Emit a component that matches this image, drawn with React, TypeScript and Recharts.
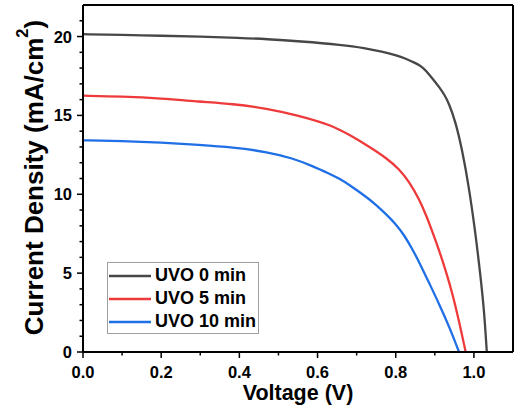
import React from 'react';
import { LineChart, Line, XAxis, YAxis, ReferenceLine, Legend } from 'recharts';

const FONT = '"Liberation Sans", Arial, Helvetica, sans-serif';

const seriesNames = ['UVO 0 min', 'UVO 5 min', 'UVO 10 min'];
const seriesColors = ['#474747', '#ee3a3a', '#1f6fe6'];

const voltage0 = [0, 0.1, 0.2, 0.3, 0.4, 0.47, 0.554, 0.664, 0.72, 0.766, 0.8, 0.826, 0.85, 0.86, 0.872, 0.885, 0.9, 0.911, 0.925, 0.936, 0.953, 0.97, 0.987, 1.004, 1.017, 1.026, 1.033];
const current0 = [20.15, 20.1, 20.05, 20.0, 19.92, 19.84, 19.7, 19.47, 19.28, 19.04, 18.82, 18.6, 18.32, 18.2, 17.97, 17.62, 17.15, 16.8, 16.3, 15.77, 14.6, 12.81, 10.5, 7.53, 4.78, 2.66, 0];

const voltage5 = [0, 0.1, 0.2, 0.298, 0.383, 0.469, 0.554, 0.605, 0.63, 0.656, 0.681, 0.732, 0.775, 0.809, 0.834, 0.86, 0.879, 0.895, 0.911, 0.928, 0.945, 0.962, 0.979];
const current5 = [16.25, 16.2, 16.08, 15.87, 15.73, 15.45, 14.97, 14.6, 14.39, 14.1, 13.78, 13.02, 12.32, 11.6, 10.8, 9.7, 8.6, 7.55, 6.45, 5.15, 3.72, 1.95, 0];

const voltage10 = [0, 0.1, 0.2, 0.298, 0.383, 0.469, 0.537, 0.588, 0.63, 0.656, 0.681, 0.724, 0.749, 0.775, 0.8, 0.822, 0.843, 0.86, 0.885, 0.911, 0.937, 0.962];
const current10 = [13.42, 13.38, 13.28, 13.13, 12.98, 12.7, 12.28, 11.78, 11.3, 11.0, 10.6, 9.85, 9.35, 8.75, 8.12, 7.4, 6.5, 5.7, 4.4, 3.05, 1.6, 0];

const xTicks = [0, 0.1, 0.2, 0.3, 0.4, 0.5, 0.6, 0.7, 0.8, 0.9, 1.0];
const yTicks = [0, 1, 2, 3, 4, 5, 6, 7, 8, 9, 10, 11, 12, 13, 14, 15, 16, 17, 18, 19, 20, 21];
const xDomain = [0, 1.1];
const yDomain = [0, 22];

const build = (vs: number[], js: number[]) => vs.map((v, i) => ({ v, j: js[i] }));
const datasets = [build(voltage0, current0), build(voltage5, current5), build(voltage10, current10)];

const XTick = (props: any) => {
  const { x, y, payload } = props;
  const v = payload.value as number;
  const major = Math.round(v * 10) % 2 === 0;
  return (
    <g>
      <line x1={x} x2={x} y1={y} y2={y + (major ? 6 : 3.5)} stroke="#000" strokeWidth={1.5} />
      {major && (
        <text x={x} y={y + 26} textAnchor="middle" fontSize={16.5} fontWeight="bold" fill="#000" fontFamily={FONT}>
          {v.toFixed(1)}
        </text>
      )}
    </g>
  );
};

const YTick = (props: any) => {
  const { x, y, payload } = props;
  const v = payload.value as number;
  const major = v % 5 === 0;
  return (
    <g>
      <line x1={x} x2={x - (major ? 6 : 3.5)} y1={y} y2={y} stroke="#000" strokeWidth={1.5} />
      {major && (
        <text x={x - 11} y={y + 6} textAnchor="end" fontSize={16.5} fontWeight="bold" fill="#000" fontFamily={FONT}>
          {v}
        </text>
      )}
    </g>
  );
};

const YLabel = (props: any) => {
  const vb = props.viewBox || { x: 0, y: 5, width: 83, height: 347 };
  const bx = vb.x + 43;
  const cy = vb.y + vb.height / 2 - 1;
  return (
    <text transform={`translate(${bx},${cy}) rotate(-90)`} textAnchor="middle" fontSize={26} fontWeight="bold" fill="#000" fontFamily={FONT}>
      Current Density (mA/cm<tspan dy={-15} fontSize={16.5}>2</tspan><tspan dy={15}>)</tspan>
    </text>
  );
};

const XLabel = (props: any) => {
  const vb = props.viewBox || { x: 83, y: 352, width: 430, height: 58 };
  return (
    <text x={vb.x + vb.width / 2} y={vb.y + 48} textAnchor="middle" fontSize={21.5} fontWeight="bold" fill="#000" fontFamily={FONT}>
      Voltage (V)
    </text>
  );
};

const LegendBox = (props: any) => {
  const payload = (props.payload || []).slice().sort(
    (a: any, b: any) => seriesNames.indexOf(a.value) - seriesNames.indexOf(b.value)
  );
  return (
    <div style={{ border: '1px solid #a0a0a0', background: '#fff', width: 152, height: 72, boxSizing: 'border-box', paddingTop: 1 }}>
      {payload.map((p: any, i: number) => (
        <div key={i} style={{ display: 'flex', alignItems: 'center', height: 23 }}>
          <svg width={43} height={6} style={{ display: 'block' }}>
            <line x1={1} x2={43} y1={3} y2={3} stroke={p.color} strokeWidth={2.5} />
          </svg>
          <span style={{ marginLeft: 4, fontFamily: FONT, fontWeight: 'bold', fontSize: 18, color: '#000', lineHeight: '23px' }}>{p.value}</span>
        </div>
      ))}
    </div>
  );
};

export default function App() {
  return (
    <div style={{ position: 'absolute', left: 0, top: 0, width: 515, height: 410, background: '#fff' }}>
      <LineChart width={515} height={410} margin={{ top: 5, right: 2, bottom: 0, left: 0 }}>
        <XAxis
          dataKey="v"
          type="number"
          domain={xDomain}
          ticks={xTicks}
          interval={0}
          allowDataOverflow
          height={58}
          tickSize={0}
          tickMargin={0}
          tickLine={false}
          axisLine={{ stroke: '#000', strokeWidth: 2 }}
          tick={<XTick />}
          label={{ content: <XLabel /> }}
        />
        <YAxis
          type="number"
          domain={yDomain}
          ticks={yTicks}
          interval={0}
          allowDataOverflow
          width={83}
          tickSize={0}
          tickMargin={0}
          tickLine={false}
          axisLine={{ stroke: '#000', strokeWidth: 2 }}
          tick={<YTick />}
          label={{ content: <YLabel /> }}
        />
        <ReferenceLine y={22} stroke="#000" strokeWidth={2} />
        <ReferenceLine x={1.1} stroke="#000" strokeWidth={2} />
        {datasets.map((d, i) => (
          <Line
            key={seriesNames[i]}
            data={d}
            dataKey="j"
            name={seriesNames[i]}
            type="basis"
            stroke={seriesColors[i]}
            strokeWidth={2.3}
            dot={false}
            activeDot={false}
            isAnimationActive={false}
          />
        ))}
        <Legend
          layout="vertical"
          align="center"
          verticalAlign="middle"
          content={<LegendBox />}
          wrapperStyle={{ left: 107, top: 262, width: 152, height: 72 }}
        />
      </LineChart>
    </div>
  );
}
